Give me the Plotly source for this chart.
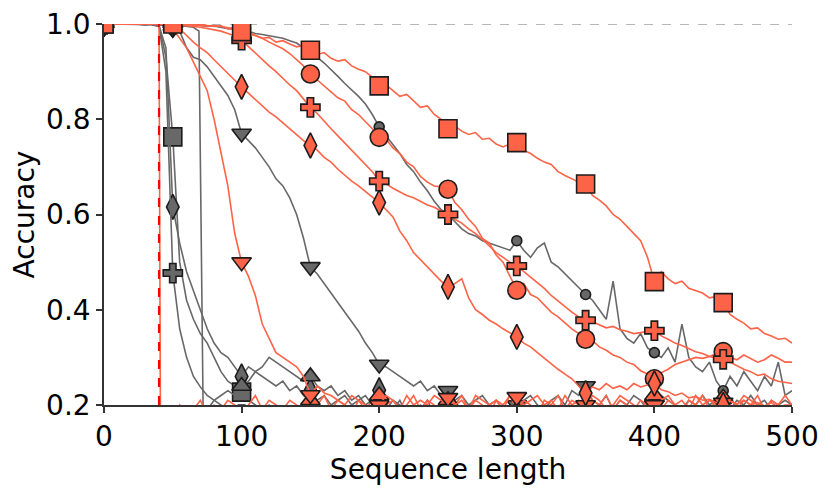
import plotly.graph_objects as go

# ---------------- data ----------------
X = list(range(0, 505, 5))

G_SQUARE = [1.0, 1.0, 1.0, 1.0, 1.0, 0.999, 0.998, 1.0, 0.997, 0.93,
            0.763, 0.5, 0.42, 0.38, 0.35, 0.33, 0.3, 0.27, 0.25, 0.24,
            0.227, 0.21, 0.2, 0.19, 0.2, 0.18, 0.19, 0.17, 0.18, 0.16,
            0.17, 0.16, 0.18, 0.15, 0.17, 0.16, 0.15, 0.17, 0.15, 0.16,
            0.15, 0.16, 0.14, 0.16, 0.15, 0.14, 0.16, 0.15, 0.14, 0.15,
            0.14, 0.15, 0.13, 0.15, 0.14, 0.13, 0.15, 0.14, 0.13, 0.14,
            0.13, 0.14, 0.13, 0.15, 0.13, 0.14, 0.12, 0.14, 0.13, 0.12,
            0.14, 0.13, 0.12, 0.14, 0.13, 0.12, 0.13, 0.12, 0.14, 0.12,
            0.13, 0.12, 0.11, 0.13, 0.12, 0.11, 0.13, 0.12, 0.11, 0.12,
            0.11, 0.12, 0.11, 0.13, 0.11, 0.12, 0.11, 0.12, 0.1, 0.11,
            0.11]
G_DIAMOND = [1.0, 1.0, 1.0, 1.0, 0.999, 1.0, 0.998, 1.0, 0.996, 0.95,
             0.616, 0.54, 0.48, 0.44, 0.4, 0.36, 0.33, 0.31, 0.3, 0.28,
             0.26, 0.28, 0.27, 0.26, 0.25, 0.24, 0.25, 0.23, 0.24, 0.22,
             0.23, 0.21, 0.22, 0.2, 0.21, 0.22, 0.2, 0.21, 0.22, 0.2,
             0.231, 0.2, 0.19, 0.21, 0.18, 0.2, 0.19, 0.21, 0.18, 0.19,
             0.18, 0.19, 0.17, 0.2, 0.18, 0.17, 0.19, 0.18, 0.17, 0.19,
             0.17, 0.18, 0.16, 0.18, 0.17, 0.16, 0.18, 0.17, 0.16, 0.18,
             0.16, 0.17, 0.16, 0.18, 0.16, 0.15, 0.17, 0.16, 0.15, 0.17,
             0.15, 0.16, 0.15, 0.17, 0.15, 0.16, 0.14, 0.16, 0.15, 0.14,
             0.16, 0.15, 0.14, 0.16, 0.14, 0.15, 0.14, 0.15, 0.13, 0.14,
             0.14]
G_PLUS = [1.0, 1.0, 1.0, 1.0, 1.0, 0.999, 1.0, 0.998, 0.995, 0.9,
          0.477, 0.36, 0.3, 0.26, 0.238, 0.22, 0.21, 0.2, 0.19, 0.2,
          0.18, 0.19, 0.17, 0.18, 0.16, 0.17, 0.15, 0.17, 0.16, 0.15,
          0.16, 0.15, 0.14, 0.16, 0.15, 0.14, 0.15, 0.14, 0.13, 0.15,
          0.14, 0.13, 0.14, 0.13, 0.12, 0.14, 0.13, 0.12, 0.13, 0.12,
          0.12, 0.13, 0.12, 0.11, 0.13, 0.12, 0.11, 0.12, 0.11, 0.12,
          0.11, 0.12, 0.1, 0.12, 0.11, 0.1, 0.12, 0.11, 0.1, 0.11,
          0.1, 0.11, 0.1, 0.12, 0.1, 0.11, 0.1, 0.11, 0.09, 0.1,
          0.1, 0.11, 0.09, 0.1, 0.11, 0.09, 0.1, 0.09, 0.1, 0.09,
          0.1, 0.09, 0.1, 0.08, 0.1, 0.09, 0.08, 0.09, 0.08, 0.09,
          0.09]
G_TRIUP_X = list(range(0, 70, 5)) + [69, 72] + list(range(75, 505, 5))
G_TRIUP = [1.0, 1.0, 1.0, 1.0, 1.0, 1.0, 0.999, 1.0, 0.998, 0.997,
           0.996, 0.997, 0.995, 0.993, 0.985, 0.2, 0.19, 0.21, 0.22, 0.23, 0.22,
           0.24, 0.25, 0.27, 0.28, 0.3, 0.29, 0.28, 0.27, 0.26, 0.25,
           0.26, 0.24, 0.23, 0.24, 0.22, 0.23, 0.21, 0.22, 0.2, 0.21,
           0.2, 0.19, 0.21, 0.2, 0.19, 0.18, 0.2, 0.19, 0.18, 0.2,
           0.19, 0.18, 0.19, 0.17, 0.19, 0.18, 0.17, 0.19, 0.18, 0.17,
           0.18, 0.17, 0.19, 0.17, 0.16, 0.18, 0.17, 0.16, 0.18, 0.17,
           0.16, 0.17, 0.16, 0.18, 0.16, 0.17, 0.15, 0.17, 0.16, 0.15,
           0.17, 0.16, 0.15, 0.16, 0.15, 0.17, 0.15, 0.16, 0.15, 0.14,
           0.16, 0.15, 0.14, 0.16, 0.15, 0.14, 0.15, 0.14, 0.15, 0.14,
           0.14]
G_TRIDOWN = [1.0, 1.0, 1.0, 1.0, 1.0, 1.0, 1.0, 1.0, 0.999, 0.998,
             0.99, 0.985, 0.95, 0.93, 0.925, 0.91, 0.89, 0.87, 0.85, 0.82,
             0.77, 0.755, 0.74, 0.72, 0.7, 0.675, 0.66, 0.635, 0.6, 0.55,
             0.49, 0.475, 0.455, 0.435, 0.415, 0.395, 0.375, 0.355, 0.33, 0.31,
             0.285, 0.28, 0.27, 0.26, 0.25, 0.24, 0.25, 0.23, 0.24, 0.22,
             0.23, 0.21, 0.22, 0.2, 0.21, 0.22, 0.2, 0.21, 0.19, 0.2,
             0.2, 0.21, 0.22, 0.2, 0.19, 0.21, 0.22, 0.2, 0.23, 0.22,
             0.24, 0.21, 0.2, 0.22, 0.19, 0.21, 0.2, 0.22, 0.21, 0.19,
             0.2, 0.22, 0.21, 0.2, 0.19, 0.21, 0.2, 0.22, 0.2, 0.21,
             0.2, 0.19, 0.21, 0.2, 0.22, 0.2, 0.21, 0.19, 0.2, 0.21,
             0.2]
G_CIRCLE = [1.0, 1.0, 1.0, 1.0, 1.0, 1.0, 1.0, 1.0, 1.0, 1.0,
            1.0, 0.999, 0.998, 1.0, 0.997, 0.995, 0.996, 0.993, 0.99, 0.992,
            0.99, 0.985, 0.98, 0.978, 0.975, 0.972, 0.97, 0.965, 0.96, 0.95,
            0.94, 0.93, 0.918, 0.905, 0.89, 0.875, 0.862, 0.848, 0.832, 0.81,
            0.784, 0.765, 0.745, 0.728, 0.705, 0.69, 0.668, 0.65, 0.628, 0.61,
            0.6, 0.585, 0.57, 0.56, 0.555, 0.545, 0.54, 0.535, 0.53, 0.525,
            0.545, 0.525, 0.51, 0.53, 0.54, 0.5, 0.49, 0.475, 0.46, 0.445,
            0.432, 0.42, 0.4, 0.38, 0.46, 0.36, 0.34, 0.33, 0.35, 0.32,
            0.31, 0.3, 0.32, 0.29, 0.37, 0.3, 0.28, 0.27, 0.29, 0.25,
            0.23, 0.26, 0.24, 0.27, 0.25, 0.23, 0.26, 0.24, 0.29, 0.22,
            0.23]

T_SQUARE = [1.0, 1.0, 1.0, 1.0, 1.0, 1.0, 1.0, 1.0, 1.0, 1.0,
            1.0, 1.0, 0.999, 0.998, 1.0, 0.997, 0.995, 0.996, 0.99, 0.988,
            0.984, 0.978, 0.976, 0.97, 0.972, 0.962, 0.965, 0.958, 0.952, 0.955,
            0.945, 0.936, 0.94, 0.928, 0.922, 0.925, 0.912, 0.905, 0.9, 0.888,
            0.87, 0.872, 0.86, 0.848, 0.852, 0.838, 0.825, 0.828, 0.81, 0.8,
            0.78, 0.786, 0.775, 0.768, 0.772, 0.758, 0.76, 0.748, 0.742, 0.748,
            0.751, 0.735, 0.728, 0.718, 0.71, 0.705, 0.69, 0.682, 0.675, 0.668,
            0.664, 0.64, 0.63, 0.618, 0.6, 0.59, 0.575, 0.56, 0.545, 0.51,
            0.459, 0.48, 0.465, 0.455, 0.46, 0.445, 0.44, 0.435, 0.425, 0.428,
            0.415, 0.39, 0.38, 0.372, 0.36, 0.362, 0.35, 0.345, 0.338, 0.34,
            0.33]
T_CIRCLE = [1.0, 1.0, 1.0, 1.0, 1.0, 1.0, 1.0, 1.0, 1.0, 1.0,
            1.0, 0.999, 1.0, 0.998, 0.997, 0.996, 0.997, 0.995, 0.993, 0.99,
            0.99, 0.982, 0.976, 0.97, 0.962, 0.955, 0.948, 0.938, 0.925, 0.912,
            0.895, 0.882, 0.87, 0.858, 0.845, 0.838, 0.82, 0.81, 0.795, 0.78,
            0.762, 0.758, 0.74, 0.728, 0.71, 0.7, 0.68, 0.668, 0.66, 0.658,
            0.653, 0.625, 0.61, 0.59, 0.575, 0.55, 0.54, 0.515, 0.5, 0.47,
            0.441, 0.455, 0.432, 0.425, 0.41, 0.395, 0.385, 0.372, 0.36, 0.35,
            0.338, 0.335, 0.322, 0.315, 0.305, 0.3, 0.29, 0.285, 0.272, 0.265,
            0.255, 0.268, 0.275, 0.285, 0.29, 0.295, 0.3, 0.298, 0.302, 0.308,
            0.312, 0.29, 0.282, 0.275, 0.27, 0.262, 0.265, 0.255, 0.25, 0.248,
            0.245]
T_PLUS = [1.0, 1.0, 1.0, 1.0, 1.0, 1.0, 1.0, 1.0, 1.0, 1.0,
          1.0, 0.998, 0.997, 0.995, 0.993, 0.99, 0.988, 0.985, 0.98, 0.975,
          0.966, 0.952, 0.94, 0.925, 0.912, 0.9, 0.885, 0.872, 0.86, 0.842,
          0.825, 0.812, 0.795, 0.78, 0.765, 0.75, 0.735, 0.72, 0.705, 0.69,
          0.67, 0.665, 0.655, 0.648, 0.64, 0.635, 0.628, 0.62, 0.615, 0.608,
          0.6, 0.59, 0.582, 0.57, 0.56, 0.548, 0.535, 0.52, 0.51, 0.5,
          0.492, 0.48, 0.468, 0.455, 0.445, 0.43, 0.418, 0.405, 0.395, 0.385,
          0.378, 0.375, 0.368, 0.362, 0.365, 0.358, 0.355, 0.35, 0.352, 0.355,
          0.356, 0.345, 0.338, 0.33, 0.325, 0.318, 0.312, 0.308, 0.302, 0.298,
          0.296, 0.3, 0.295, 0.305, 0.298, 0.29, 0.295, 0.305, 0.298, 0.29,
          0.29]
T_DIAMOND = [1.0, 1.0, 1.0, 1.0, 1.0, 1.0, 1.0, 1.0, 1.0, 1.0,
             1.0, 0.99, 0.975, 0.962, 0.95, 0.94, 0.925, 0.91, 0.895, 0.882,
             0.868, 0.855, 0.84, 0.828, 0.815, 0.805, 0.792, 0.78, 0.768, 0.755,
             0.745, 0.735, 0.72, 0.71, 0.695, 0.682, 0.67, 0.66, 0.648, 0.638,
             0.625, 0.61, 0.595, 0.565, 0.545, 0.52, 0.505, 0.49, 0.475, 0.46,
             0.448, 0.455, 0.465, 0.425, 0.4, 0.39, 0.378, 0.37, 0.36, 0.352,
             0.343, 0.33, 0.322, 0.31, 0.298, 0.285, 0.275, 0.265, 0.255, 0.24,
             0.225, 0.238, 0.232, 0.245, 0.235, 0.24, 0.232, 0.245, 0.238, 0.242,
             0.245, 0.232, 0.228, 0.22, 0.225, 0.215, 0.218, 0.21, 0.212, 0.205,
             0.2, 0.208, 0.202, 0.21, 0.2, 0.205, 0.198, 0.205, 0.195, 0.2,
             0.2]
T_TRIDOWN = [1.0, 1.0, 1.0, 1.0, 1.0, 1.0, 1.0, 1.0, 1.0, 1.0,
             0.99, 0.97, 0.95, 0.92, 0.89, 0.86, 0.8, 0.73, 0.66, 0.56,
             0.5, 0.47, 0.43, 0.37, 0.34, 0.31, 0.3, 0.29, 0.28, 0.26,
             0.221, 0.24, 0.225, 0.22, 0.21, 0.2, 0.22, 0.21, 0.19, 0.21,
             0.2, 0.22, 0.21, 0.19, 0.22, 0.2, 0.21, 0.2, 0.22, 0.21,
             0.215, 0.2, 0.21, 0.19, 0.22, 0.21, 0.2, 0.21, 0.19, 0.22,
             0.217, 0.2, 0.21, 0.22, 0.2, 0.21, 0.19, 0.22, 0.2, 0.21,
             0.2, 0.22, 0.21, 0.19, 0.2, 0.22, 0.21, 0.2, 0.19, 0.21,
             0.2, 0.21, 0.22, 0.2, 0.21, 0.19, 0.22, 0.2, 0.21, 0.2,
             0.205, 0.21, 0.2, 0.22, 0.21, 0.2, 0.19, 0.21, 0.2, 0.22,
             0.2]
T_TRIUP_X = list(range(0, 45, 5)) + [41] + list(range(45, 505, 5))
T_TRIUP = [1.0, 1.0, 1.0, 1.0, 1.0, 1.0, 1.0, 1.0, 1.0, 0.17,
           0.16, 0.18, 0.2, 0.17, 0.19, 0.21, 0.18, 0.2, 0.19, 0.21,
           0.2, 0.18, 0.2, 0.22, 0.19, 0.21, 0.2, 0.19, 0.21, 0.2,
           0.18, 0.21, 0.2, 0.22, 0.19, 0.21, 0.2, 0.18, 0.21, 0.2,
           0.19, 0.22, 0.2, 0.21, 0.19, 0.2, 0.22, 0.19, 0.21, 0.2,
           0.18, 0.21, 0.2, 0.22, 0.19, 0.21, 0.2, 0.18, 0.21, 0.2,
           0.22, 0.19, 0.21, 0.2, 0.18, 0.21, 0.2, 0.22, 0.19, 0.21,
           0.2, 0.18, 0.21, 0.2, 0.22, 0.19, 0.21, 0.2, 0.19, 0.21,
           0.2, 0.22, 0.19, 0.21, 0.2, 0.18, 0.21, 0.2, 0.22, 0.19,
           0.21, 0.215, 0.2, 0.19, 0.21, 0.2, 0.22, 0.19, 0.21, 0.2,
           0.19, 0.2]

TRAIN_LENGTH = 40
X_TICKS = [0, 100, 200, 300, 400, 500]
Y_TICKS = [0.2, 0.4, 0.6, 0.8, 1.0]

GREY = "#686868"
TOMATO = "#FF6347"
EDGE = "#1c1c1c"

series = [
    ("grey-square", X, G_SQUARE, GREY, "square", 18),
    ("grey-diamond", X, G_DIAMOND, GREY, "diamond-tall", 18),
    ("grey-plus", X, G_PLUS, GREY, "cross", 16),
    ("grey-triangle-up", G_TRIUP_X, G_TRIUP, GREY, "triangle-up", 17),
    ("grey-triangle-down", X, G_TRIDOWN, GREY, "triangle-down", 17),
    ("grey-circle", X, G_CIRCLE, GREY, "circle", 10),
    ("tomato-triangle-up", T_TRIUP_X, T_TRIUP, TOMATO, "triangle-up", 17),
    ("tomato-triangle-down", X, T_TRIDOWN, TOMATO, "triangle-down", 17),
    ("tomato-circle", X, T_CIRCLE, TOMATO, "circle", 18),
    ("tomato-diamond", X, T_DIAMOND, TOMATO, "diamond-tall", 18),
    ("tomato-plus", X, T_PLUS, TOMATO, "cross", 16),
    ("tomato-square", X, T_SQUARE, TOMATO, "square", 18),
]

fig = go.Figure()

fig.add_trace(go.Scatter(x=[0, 500], y=[1.0, 1.0], mode="lines",
                         line=dict(color="#a0a0a0", width=1.5, dash="dash"),
                         hoverinfo="skip", showlegend=False))

for name, xs, ys, col, sym, size in series:
    fig.add_trace(go.Scatter(x=xs, y=ys, mode="lines", name=name,
                             line=dict(color=col, width=1.6),
                             showlegend=False))
    mx = [xv for xv in xs if xv % 50 == 0 and xv < 500]
    my = [yv for xv, yv in zip(xs, ys) if xv % 50 == 0 and xv < 500]
    fig.add_trace(go.Scatter(x=mx, y=my, mode="markers", name=name,
                             marker=dict(symbol=sym, size=size, color=col,
                                         line=dict(color=EDGE, width=1.6)),
                             showlegend=False))

fig.add_trace(go.Scatter(x=[TRAIN_LENGTH, TRAIN_LENGTH], y=[0.2, 1.0], mode="lines",
                         line=dict(color="#ff0000", width=2.2, dash="dash"),
                         hoverinfo="skip", showlegend=False))

axis_font = dict(family="DejaVu Sans", size=28, color="#000000")
title_font = dict(family="DejaVu Sans", size=28, color="#000000")
# page body adds an 8px offset; size/margins compensate so the plot area
# lands at 104..792 x 24..405 in the 831x493 window
fig.update_layout(
    width=823, height=485,
    margin=dict(l=96, r=39, t=16, b=88, autoexpand=False),
    paper_bgcolor="white", plot_bgcolor="white",
    font=dict(family="DejaVu Sans", size=28, color="#000000"),
    xaxis=dict(range=[0, 500], tickvals=X_TICKS, ticktext=[str(v) for v in X_TICKS],
               showgrid=False, zeroline=False, showline=True, linecolor="#333333",
               linewidth=1.6, ticks="outside", ticklen=6, tickwidth=1.6,
               tickcolor="#333333", tickfont=axis_font, automargin=False,
               ticklabeloverflow="allow",
               title=dict(text="Sequence length", font=title_font, standoff=4)),
    yaxis=dict(range=[0.2, 1.0], tickvals=Y_TICKS, ticktext=[f"{v:.1f}" for v in Y_TICKS],
               showgrid=False, zeroline=False, showline=True, linecolor="#333333",
               linewidth=1.6, ticks="outside", ticklen=6, tickwidth=1.6,
               tickcolor="#333333", tickfont=axis_font, automargin=False,
               ticklabeloverflow="allow",
               title=dict(text="Accuracy", font=title_font, standoff=8)),
)

fig.write_html("out.html")
